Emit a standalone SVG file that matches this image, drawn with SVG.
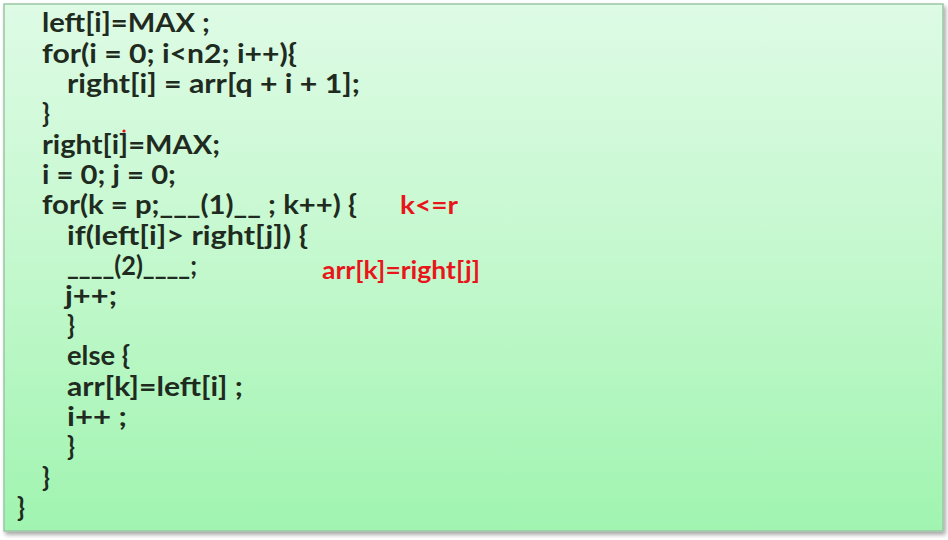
<svg xmlns="http://www.w3.org/2000/svg" width="948" height="540" viewBox="0 0 948 540">
<defs>
<linearGradient id="bg" x1="0" y1="0" x2="0" y2="1">
<stop offset="0" stop-color="#defbe5"/>
<stop offset="0.5" stop-color="#c3f8cd"/>
<stop offset="1" stop-color="#a0f4b0"/>
</linearGradient>
<filter id="sh" x="-5%" y="-5%" width="110%" height="110%">
<feGaussianBlur in="SourceAlpha" stdDeviation="2"/>
<feOffset dx="2" dy="3"/>
<feComponentTransfer><feFuncA type="linear" slope="0.35"/></feComponentTransfer>
<feMerge><feMergeNode/><feMergeNode in="SourceGraphic"/></feMerge>
</filter>
</defs>
<style>
.c{font-family:Lato,"Liberation Sans",sans-serif;font-weight:bold;font-size:26px;fill:#1f2b20}
.r{font-family:Lato,"Liberation Sans",sans-serif;font-weight:bold;font-size:24px;fill:#e8161b}
</style>
<rect width="948" height="540" fill="#ffffff"/>
<g id="panel">
<rect x="4" y="4" width="939" height="527" fill="url(#bg)" stroke="#9cc6a4" stroke-width="1.5" filter="url(#sh)"/>
</g>
<g id="code">
<text class="c" x="42" y="32" textLength="168" lengthAdjust="spacingAndGlyphs">left[i]=MAX ;</text>
<text class="c" x="42" y="63" textLength="255" lengthAdjust="spacingAndGlyphs">for(i = 0; i&lt;n2; i++){</text>
<text class="c" x="67" y="93" textLength="293" lengthAdjust="spacingAndGlyphs">right[i] = arr[q + i + 1];</text>
<text class="c" x="42" y="123">}</text>
<text class="c" x="42" y="154" textLength="178" lengthAdjust="spacingAndGlyphs">right[i]=MAX;</text>
<text class="c" x="42" y="184" textLength="134" lengthAdjust="spacingAndGlyphs">i = 0; j = 0;</text>
<text class="c" x="42" y="214" textLength="315" lengthAdjust="spacingAndGlyphs">for(k = p;___(1)__ ; k++) {</text>
<text class="c" x="67" y="245" textLength="241" lengthAdjust="spacingAndGlyphs">if(left[i]&gt; right[j]) {</text>
<text class="c" x="67" y="275" textLength="130" lengthAdjust="spacingAndGlyphs">____(2)____;</text>
<text class="c" x="65" y="305" textLength="52" lengthAdjust="spacingAndGlyphs">j++;</text>
<text class="c" x="67" y="335">}</text>
<text class="c" x="67" y="365" textLength="63" lengthAdjust="spacingAndGlyphs">else {</text>
<text class="c" x="67" y="396" textLength="176" lengthAdjust="spacingAndGlyphs">arr[k]=left[i] ;</text>
<text class="c" x="67" y="426" textLength="60" lengthAdjust="spacingAndGlyphs">i++ ;</text>
<text class="c" x="67" y="456">}</text>
<text class="c" x="42" y="487">}</text>
<text class="c" x="17" y="517">}</text>
</g>
<g id="answers">
<text class="r" x="400" y="214" textLength="58" lengthAdjust="spacingAndGlyphs">k&lt;=r</text>
<text class="r" x="322" y="279" textLength="158" lengthAdjust="spacingAndGlyphs">arr[k]=right[j]</text>
<circle cx="124" cy="131" r="1.6" fill="#e8161b"/>
</g>
</svg>
